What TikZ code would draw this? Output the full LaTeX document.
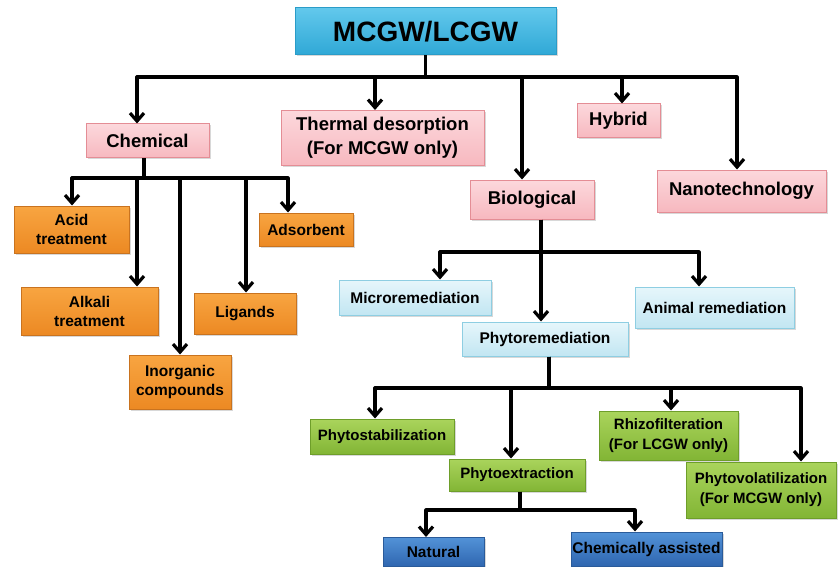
\documentclass[tikz,border=0pt]{standalone}
\usepackage{fontspec}
\setmainfont{Liberation Sans}
\usepackage{tikz}
\usetikzlibrary{arrows.meta,shadows}

\definecolor{rootT}{HTML}{62C8EC}
\definecolor{rootB}{HTML}{2FA8D6}
\definecolor{rootD}{HTML}{2A9CC8}
\definecolor{pinkT}{HTML}{FCD8DC}
\definecolor{pinkB}{HTML}{F7B8BF}
\definecolor{pinkD}{HTML}{E48D95}
\definecolor{orT}{HTML}{F8A541}
\definecolor{orB}{HTML}{EC8923}
\definecolor{orD}{HTML}{C9731F}
\definecolor{lbT}{HTML}{E6F6FB}
\definecolor{lbB}{HTML}{C2E6F2}
\definecolor{lbD}{HTML}{8ECEE2}
\definecolor{grT}{HTML}{AAD45C}
\definecolor{grB}{HTML}{82B535}
\definecolor{grD}{HTML}{6E9E2A}
\definecolor{blT}{HTML}{5292D7}
\definecolor{blB}{HTML}{2F66B0}
\definecolor{blD}{HTML}{2A5B9A}

\begin{document}
\begin{tikzpicture}[x=1pt,y=-1pt,
  sz/.style 2 args={minimum width=#1pt,minimum height=#2pt},
  box/.style={draw,line width=1pt,align=center,inner sep=0pt,
    drop shadow={opacity=0.3,shadow xshift=1.5pt,shadow yshift=-1.5pt}},
  rootbox/.style={box,top color=rootT,bottom color=rootB,draw=rootD,
    font=\bfseries\fontsize{28}{30}\selectfont},
  pinkbox/.style={box,top color=pinkT,bottom color=pinkB,draw=pinkD,
    font=\bfseries\fontsize{18.5}{24}\selectfont},
  orbox/.style={box,top color=orT,bottom color=orB,draw=orD,
    font=\bfseries\fontsize{15.5}{19}\selectfont},
  lbbox/.style={box,top color=lbT,bottom color=lbB,draw=lbD,
    font=\bfseries\fontsize{15.5}{19}\selectfont},
  grbox/.style={box,top color=grT,bottom color=grB,draw=grD,
    font=\bfseries\fontsize{15}{20}\selectfont},
  blbox/.style={box,top color=blT,bottom color=blB,draw=blD,
    font=\bfseries\fontsize{15.5}{19}\selectfont},
  link/.style={line width=3.2pt,line join=round},
  arr/.style={link,-{Straight Barb[length=8pt,width=14pt]}}]

  \fill[white] (0,0) rectangle (838,567);
  \useasboundingbox (0,0) rectangle (838,567);

  % boxes
  \node[rootbox,sz={261}{47}] (root) at (425.5,31.5) {MCGW/LCGW};

  \node[pinkbox,sz={123}{34}] (chem) at (147.5,141) {Chemical};
  \node[pinkbox,sz={203}{55}] (thermal) at (382.5,138) {Thermal desorption\\(For MCGW only)};
  \node[pinkbox,sz={83}{34}] (hybrid) at (618.5,121) {Hybrid};
  \node[pinkbox,sz={124}{39}] (bio) at (532,199.5) {Biological};
  \node[pinkbox,sz={169}{42}] (nano) at (741.5,191) {Nanotechnology};

  \node[orbox,sz={115}{47}] (acid) at (71.5,229.5) {Acid\\treatment};
  \node[orbox,sz={137}{48}] (alkali) at (89.5,311) {Alkali\\treatment};
  \node[orbox,sz={102}{54}] (inorg) at (180,382) {Inorganic\\compounds};
  \node[orbox,sz={102}{41}] (lig) at (245,313.5) {Ligands};
  \node[orbox,sz={94}{33}] (adsorb) at (306,229.5) {Adsorbent};

  \node[lbbox,sz={152}{35}] (micro) at (415,297.5) {Microremediation};
  \node[lbbox,sz={166}{34}] (phyto) at (545,339) {Phytoremediation};
  \node[lbbox,sz={159}{41}] (animal) at (714.5,307.5) {Animal remediation};

  \node[grbox,sz={144}{35}] (stab) at (382,436.5) {Phytostabilization};
  \node[grbox,sz={136}{32}] (extr) at (517,475) {Phytoextraction};
  \node[grbox,sz={139}{49}] (rhizo) at (668.5,435.5) {Rhizofilteration\\(For LCGW only)};
  \node[grbox,sz={150}{56}] (volat) at (761,490) {Phytovolatilization\\(For MCGW only)};

  \node[blbox,sz={101}{29}] (natural) at (433.5,552) {Natural};
  \node[blbox,sz={151}{34}] (chemass) at (646.5,549) {Chemically assisted};

  % where the arrows leave and enter
  \foreach \n/\dx in {chem/-3.5,bio/9,phyto/4,extr/3}
    \coordinate (\n-out) at ([xshift=\dx]\n.south);
  \foreach \n/\dx in {chem/-10.5,thermal/-7.5,bio/-10,hybrid/3.5,nano/-4.5,
                      acid/0.5,alkali/47.5,inorg/0,lig/1,adsorb/-18,
                      micro/25,phyto/-4,animal/-15.5,
                      stab/-7,extr/-6,rhizo/2.5,volat/40,
                      natural/-7.5,chemass/-11.5}
    \coordinate (\n-in) at ([xshift=\dx]\n.north);

  % bar levels
  \coordinate (bar1) at (0,77);
  \coordinate (bar2) at (0,178);
  \coordinate (bar3) at (0,252);
  \coordinate (bar4) at (0,388);
  \coordinate (bar5) at (0,510);

  % connectors
  \foreach \n in {chem,thermal,bio,hybrid,nano}
    \draw[arr] (root.south) -- (root.south |- bar1) -| (\n-in);
  \foreach \n in {acid,alkali,inorg,lig,adsorb}
    \draw[arr] (chem-out) -- (chem-out |- bar2) -| (\n-in);
  \foreach \n in {micro,phyto,animal}
    \draw[arr] (bio-out) -- (bio-out |- bar3) -| (\n-in);
  \foreach \n in {stab,extr,rhizo,volat}
    \draw[arr] (phyto-out) -- (phyto-out |- bar4) -| (\n-in);
  \foreach \n in {natural,chemass}
    \draw[arr] (extr-out) -- (extr-out |- bar5) -| (\n-in);
\end{tikzpicture}
\end{document}
